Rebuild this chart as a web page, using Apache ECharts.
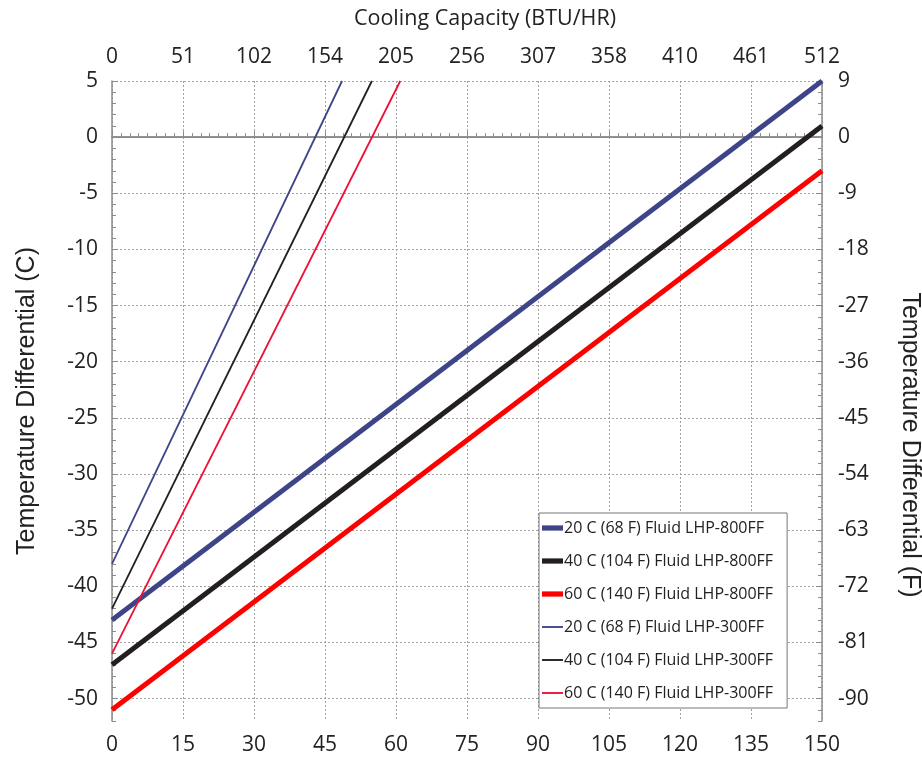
<!DOCTYPE html>
<html>
<head>
<meta charset="utf-8">
<script src="https://cdn.jsdelivr.net/npm/echarts@6/dist/echarts.min.js"></script>
<style>
html,body{margin:0;padding:0;background:#fff;}
#chart{width:922px;height:766px;}
</style>
</head>
<body>
<div id="chart"></div>
<script>
// ---- data ----
const seriesNames = [
  '20 C (68 F) Fluid LHP-800FF',
  '40 C (104 F) Fluid LHP-800FF',
  '60 C (140 F) Fluid LHP-800FF',
  '20 C (68 F) Fluid LHP-300FF',
  '40 C (104 F) Fluid LHP-300FF',
  '60 C (140 F) Fluid LHP-300FF'
];
// [watts, temperature differential C]
const lhp800_20 = [[0, -43], [150, 5]];
const lhp800_40 = [[0, -47], [150, 1]];
const lhp800_60 = [[0, -51], [150, -3]];
const lhp300_20 = [[0, -38], [48.6, 5]];
const lhp300_40 = [[0, -42], [54.9, 5]];
const lhp300_60 = [[0, -46], [60.9, 5]];

const bottomTicks = [0, 15, 30, 45, 60, 75, 90, 105, 120, 135, 150];
const topTickLabels = ['0', '51', '102', '154', '205', '256', '307', '358', '410', '461', '512'];
const leftTicks = [-50, -45, -40, -35, -30, -25, -20, -15, -10, -5, 0, 5];
const rightTickLabels = ['-90', '-81', '-72', '-63', '-54', '-45', '-36', '-27', '-18', '-9', '0', '9'];

const yMin = -52, yMax = 5;
const gray = '#8c8c8c';
const tickFont = {fontFamily: 'Open Sans', fontSize: 21, color: '#222'};

const chart = echarts.init(document.getElementById('chart'), null, {renderer: 'canvas'});

const colors = ['#3e4488', '#231f20', '#ff0000', '#3e4488', '#231f20', '#ee1133'];
const widths = [5, 5, 5, 1.8, 1.8, 1.8];
const datas = [lhp800_20, lhp800_40, lhp800_60, lhp300_20, lhp300_40, lhp300_60];

const option = {
  animation: false,
  backgroundColor: '#fff',
  grid: {left: 112, right: 100, top: 81, bottom: 45, containLabel: false},
  graphic: [
    {type: 'text', x: 485, y: 19, style: {text: 'Cooling Capacity (BTU/HR)', font: '21.5px "Open Sans"', fill: '#222', align: 'center', verticalAlign: 'middle'}},
    {type: 'text', x: 27, y: 401, rotation: Math.PI / 2, style: {text: 'Temperature Differential (C)', font: '25px "Liberation Sans"', fill: '#222', align: 'center', verticalAlign: 'middle'}},
    {type: 'text', x: 910, y: 445, rotation: -Math.PI / 2, style: {text: 'Temperature Differential (F)', font: '25px "Liberation Sans"', fill: '#222', align: 'center', verticalAlign: 'middle'}}
  ],
  legend: {
    orient: 'vertical',
    left: 539, top: 513,
    padding: [7, 14, 7, 3],
    itemWidth: 21, itemHeight: 14, itemGap: 17,
    borderColor: '#777', borderWidth: 1, backgroundColor: '#fff',
    textStyle: {fontFamily: 'Open Sans', fontSize: 16, color: '#222', lineHeight: 14, padding: [0, 0, 0, -4]},
    data: seriesNames.map((n, i) => ({name: n, icon: 'path://M0,0H20V' + (i < 3 ? 5 : 1.8) + 'H0Z', itemStyle: {color: colors[i]}}))
  },
  xAxis: [
    {
      type: 'value', position: 'bottom', min: 0, max: 150, interval: 15,
      axisLine: {show: true, lineStyle: {color: gray, width: 1.5}},
      axisTick: {show: true, inside: true, length: 6, lineStyle: {color: gray}},
      minorTick: {show: true, splitNumber: 8, length: 4, lineStyle: {color: gray}},
      axisLabel: Object.assign({margin: 14}, tickFont),
      splitLine: {show: true, lineStyle: {color: '#a0a0a0', type: [2, 2], width: 1}}
    },
    {
      type: 'value', position: 'top', min: 0, max: 150, interval: 15,
      axisLine: {show: true, lineStyle: {color: gray, width: 1.5}},
      axisTick: {show: false},
      axisLabel: Object.assign({margin: 13, formatter: v => topTickLabels[bottomTicks.indexOf(v)]}, tickFont),
      splitLine: {show: false}
    }
  ],
  yAxis: [
    { // left minor ticks
      type: 'value', position: 'left', min: yMin, max: yMax, interval: 1,
      axisLine: {show: true, lineStyle: {color: gray, width: 1.5}},
      axisTick: {show: true, inside: true, length: 4, lineStyle: {color: gray}},
      axisLabel: {show: false}, splitLine: {show: false}
    },
    { // left major ticks, labels, grid
      type: 'value', position: 'left', min: yMin, max: yMax,
      axisLine: {show: false},
      axisTick: {show: true, inside: true, length: 6, customValues: leftTicks, lineStyle: {color: gray}},
      axisLabel: Object.assign({margin: 14, customValues: leftTicks}, tickFont),
      splitLine: {show: true, lineStyle: {color: '#a0a0a0', type: [2, 2], width: 1}}
    },
    { // zero line
      type: 'value', position: 'left', min: yMin, max: yMax,
      axisLine: {show: false},
      axisTick: {show: false, customValues: [0]},
      axisLabel: {show: false, customValues: [0]},
      splitLine: {show: true, lineStyle: {color: '#8a8a8a', type: 'solid', width: 1.2}}
    },
    { // right minor ticks
      type: 'value', position: 'right', min: yMin, max: yMax, interval: 1,
      axisLine: {show: true, lineStyle: {color: gray, width: 1.5}},
      axisTick: {show: true, inside: true, length: 4, lineStyle: {color: gray}},
      axisLabel: {show: false}, splitLine: {show: false}
    },
    { // right labels (F)
      type: 'value', position: 'right', min: yMin, max: yMax,
      axisLine: {show: false},
      axisTick: {show: true, inside: true, length: 6, customValues: leftTicks, lineStyle: {color: gray}},
      axisLabel: Object.assign({margin: 16, customValues: leftTicks, formatter: v => rightTickLabels[leftTicks.indexOf(v)]}, tickFont),
      splitLine: {show: false}
    }
  ],
  series: seriesNames.map((n, i) => ({
    name: n, type: 'line', xAxisIndex: 0, yAxisIndex: 0,
    data: datas[i], symbol: 'none', clip: true,
    lineStyle: {color: colors[i], width: widths[i]},
    itemStyle: {color: colors[i]},
    z: i < 3 ? 3 : 4
  }))
};
chart.setOption(option);
</script>
</body>
</html>
